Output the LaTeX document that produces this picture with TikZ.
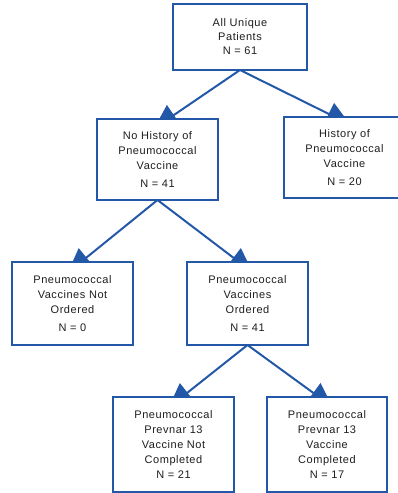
\documentclass[tikz,border=0pt]{standalone}
\usepackage{fontspec}
\setmainfont{Liberation Sans}[LetterSpace=5]
\usetikzlibrary{arrows.meta,calc}
\definecolor{boxblue}{RGB}{35,88,168}
\definecolor{txtgray}{RGB}{30,30,30}
\pgfdeclarelayer{bg}
\pgfsetlayers{bg,main}
\begin{document}
\begin{tikzpicture}[x=1pt,y=-1pt,
  flowbox/.style={draw=boxblue,line width=2.6pt,fill=white,align=center,text=txtgray,
    inner sep=0pt,outer sep=0pt,font=\fontsize{11}{15}\selectfont},
  arr/.style={draw=boxblue,line width=2pt,-{Triangle[length=24pt,width=24pt]}}]
\useasboundingbox (0,0) rectangle (398,493);
\node[flowbox,minimum width=134pt,minimum height=66pt,font=\fontsize{11}{14}\selectfont] (all) at (240,37)
  {All Unique\\Patients\\N = 61};
\node[flowbox,minimum width=121pt,minimum height=81pt] (nohist) at (157.5,159.5)
  {No History of\\Pneumococcal\\Vaccine\\[3pt]N = 41};
\node[flowbox,minimum width=121pt,minimum height=81pt] (hist) at (344.5,157.5)
  {History of\\Pneumococcal\\Vaccine\\[3pt]N = 20};
\node[flowbox,minimum width=121pt,minimum height=83pt] (notord) at (72.5,303.5)
  {Pneumococcal\\Vaccines Not\\Ordered\\[3pt]N = 0};
\node[flowbox,minimum width=121pt,minimum height=83pt] (ord) at (247.5,303.5)
  {Pneumococcal\\Vaccines\\Ordered\\[3pt]N = 41};
\node[flowbox,minimum width=121pt,minimum height=95pt] (notcomp) at (173.5,444.5)
  {Pneumococcal\\Prevnar 13\\Vaccine Not\\Completed\\N = 21};
\node[flowbox,minimum width=120pt,minimum height=95pt] (comp) at (327,444.5)
  {Pneumococcal\\Prevnar 13\\Vaccine\\Completed\\N = 17};
\coordinate (c1) at ($(nohist.north west)!0.587!(nohist.north east)$);
\coordinate (c2) at ($(hist.north west)!0.421!(hist.north east)$);
\coordinate (c3) at ($(notord.north west)!0.57!(notord.north east)$);
\coordinate (c4) at ($(ord.north west)!0.43!(ord.north east)$);
\coordinate (c5) at ($(notcomp.north west)!0.57!(notcomp.north east)$);
\coordinate (c6) at ($(comp.north west)!0.433!(comp.north east)$);
\begin{pgfonlayer}{bg}
\draw[arr] (all.south) -- ($(c1)!-17pt!(all.south)$);
\draw[arr] (all.south) -- ($(c2)!-17pt!(all.south)$);
\draw[arr] (nohist.south) -- ($(c3)!-17pt!(nohist.south)$);
\draw[arr] (nohist.south) -- ($(c4)!-17pt!(nohist.south)$);
\draw[arr] (ord.south) -- ($(c5)!-17pt!(ord.south)$);
\draw[arr] (ord.south) -- ($(c6)!-17pt!(ord.south)$);
\end{pgfonlayer}
\end{tikzpicture}
\end{document}
